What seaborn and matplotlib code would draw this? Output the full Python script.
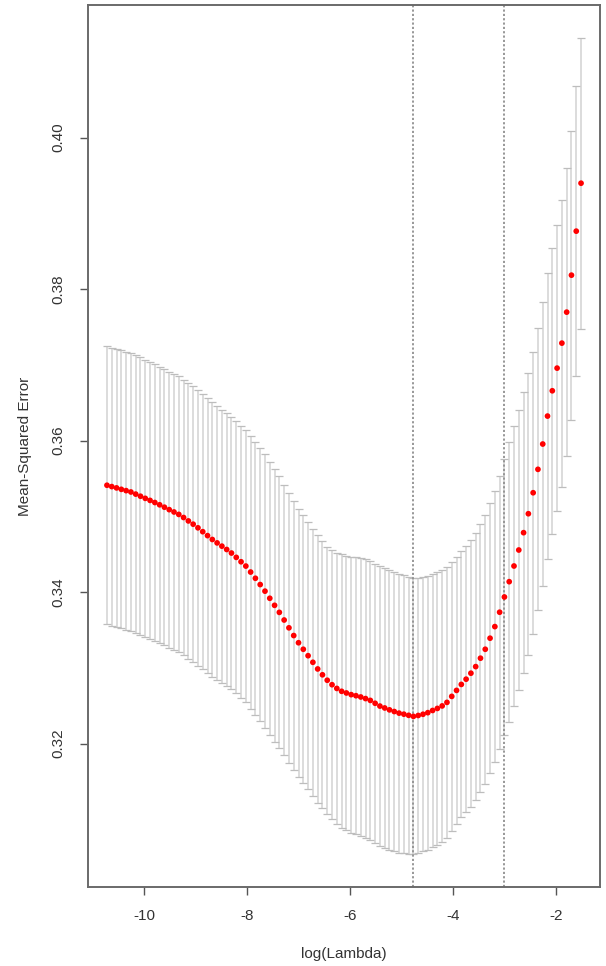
import numpy as np
import pandas as pd
import matplotlib
matplotlib.use("Agg")
import matplotlib.pyplot as plt
import seaborn as sns

# cross-validation curve (glmnet style): log(lambda), mean CV error, its standard error
log_lambda = [
    -10.725, -10.632, -10.539, -10.446, -10.353, -10.260, -10.167, -10.074, -9.981, -9.888,
    -9.795, -9.702, -9.609, -9.516, -9.423, -9.330, -9.237, -9.144, -9.051, -8.958,
    -8.865, -8.772, -8.679, -8.586, -8.493, -8.400, -8.307, -8.214, -8.121, -8.028,
    -7.935, -7.842, -7.749, -7.656, -7.563, -7.470, -7.377, -7.284, -7.191, -7.098,
    -7.005, -6.912, -6.819, -6.726, -6.633, -6.540, -6.447, -6.354, -6.261, -6.168,
    -6.075, -5.982, -5.889, -5.796, -5.703, -5.610, -5.517, -5.424, -5.331, -5.238,
    -5.145, -5.052, -4.959, -4.866, -4.773, -4.680, -4.587, -4.494, -4.401, -4.308,
    -4.215, -4.122, -4.029, -3.936, -3.843, -3.750, -3.657, -3.564, -3.471, -3.378,
    -3.285, -3.192, -3.099, -3.006, -2.913, -2.820, -2.727, -2.634, -2.541, -2.448,
    -2.355, -2.262, -2.169, -2.076, -1.983, -1.890, -1.797, -1.704, -1.611, -1.518,
]

cv_mean = [
    0.35410, 0.35392, 0.35375, 0.35356, 0.35339, 0.35321, 0.35293, 0.35265, 0.35237, 0.35210,
    0.35182, 0.35152, 0.35120, 0.35088, 0.35057, 0.35025, 0.34984, 0.34939, 0.34896, 0.34848,
    0.34797, 0.34745, 0.34694, 0.34649, 0.34606, 0.34562, 0.34515, 0.34458, 0.34400, 0.34343,
    0.34264, 0.34182, 0.34099, 0.34012, 0.33918, 0.33825, 0.33732, 0.33631, 0.33528, 0.33426,
    0.33331, 0.33245, 0.33160, 0.33073, 0.32985, 0.32908, 0.32836, 0.32777, 0.32728, 0.32690,
    0.32668, 0.32646, 0.32632, 0.32615, 0.32594, 0.32570, 0.32532, 0.32495, 0.32470, 0.32445,
    0.32423, 0.32402, 0.32388, 0.32373, 0.32359, 0.32371, 0.32387, 0.32408, 0.32437, 0.32464,
    0.32497, 0.32544, 0.32623, 0.32702, 0.32781, 0.32850, 0.32929, 0.33016, 0.33127, 0.33245,
    0.33391, 0.33544, 0.33734, 0.33935, 0.34137, 0.34344, 0.34555, 0.34784, 0.35034, 0.35311,
    0.35620, 0.35954, 0.36323, 0.36657, 0.36956, 0.37286, 0.37695, 0.38183, 0.38764, 0.39397,
]

cv_sd = [
    0.01834, 0.01834, 0.01834, 0.01834, 0.01834, 0.01834, 0.01834, 0.01832, 0.01830, 0.01828,
    0.01826, 0.01823, 0.01821, 0.01821, 0.01821, 0.01821, 0.01821, 0.01821, 0.01821, 0.01821,
    0.01817, 0.01813, 0.01809, 0.01806, 0.01802, 0.01798, 0.01794, 0.01796, 0.01798, 0.01799,
    0.01802, 0.01803, 0.01806, 0.01807, 0.01803, 0.01798, 0.01794, 0.01788, 0.01781, 0.01774,
    0.01768, 0.01766, 0.01765, 0.01765, 0.01764, 0.01763, 0.01761, 0.01777, 0.01792, 0.01807,
    0.01814, 0.01821, 0.01827, 0.01834, 0.01838, 0.01840, 0.01844, 0.01847, 0.01847, 0.01847,
    0.01847, 0.01840, 0.01834, 0.01827, 0.01821, 0.01817, 0.01811, 0.01807, 0.01803, 0.01797,
    0.01792, 0.01785, 0.01778, 0.01766, 0.01755, 0.01759, 0.01761, 0.01765, 0.01768, 0.01776,
    0.01785, 0.01793, 0.01801, 0.01825, 0.01847, 0.01847, 0.01847, 0.01854, 0.01860, 0.01860,
    0.01860, 0.01873, 0.01887, 0.01887, 0.01887, 0.01893, 0.01900, 0.01906, 0.01913, 0.01921,
]

lambda_min = -4.773   # log(lambda.min)
lambda_1se = -3.006   # log(lambda.1se)

x_ticks = [-10, -8, -6, -4, -2]
y_ticks = [0.32, 0.34, 0.36, 0.38, 0.40]


def main():
    sns.set_style("ticks")
    plt.rcParams['font.family'] = ['Liberation Sans', 'DejaVu Sans']

    df = pd.DataFrame({"log_lambda": log_lambda, "mse": cv_mean, "sd": cv_sd})
    df["lo"] = df["mse"] - df["sd"]
    df["up"] = df["mse"] + df["sd"]

    fig = plt.figure(figsize=(6.06, 9.66), dpi=100)
    ax = fig.add_axes([88 / 606, 79 / 966, 512 / 606, 882 / 966])

    # error bars: light grey stems, slightly darker caps
    ax.vlines(df["log_lambda"], df["lo"], df["up"], color="#d2d2d2", linewidth=1.1, zorder=1)
    ax.errorbar(df["log_lambda"], df["mse"], yerr=df["sd"], fmt="none",
                ecolor="#bdbdbd", elinewidth=0, capsize=3.2, capthick=0.9, zorder=1)

    # red points
    sns.scatterplot(data=df, x="log_lambda", y="mse", color="#ff0000", s=17,
                    edgecolor="none", linewidth=0, ax=ax, zorder=3, legend=False)

    # vertical dotted lines for lambda.min and lambda.1se
    for v in (lambda_min, lambda_1se):
        ax.axvline(v, color="#909090", linestyle=(0, (1.2, 1.2)), linewidth=1.3, zorder=2)

    # R-like 4% axis padding
    xr = df["log_lambda"].max() - df["log_lambda"].min()
    ax.set_xlim(df["log_lambda"].min() - 0.04 * xr, df["log_lambda"].max() + 0.04 * xr)
    yr = df["up"].max() - df["lo"].min()
    ax.set_ylim(df["lo"].min() - 0.04 * yr, df["up"].max() + 0.04 * yr)

    ax.set_xticks(x_ticks)
    ax.set_xticklabels([str(t) for t in x_ticks])
    ax.set_yticks(y_ticks)
    ax.set_yticklabels([f"{t:.2f}" for t in y_ticks], rotation=90, va="center")

    ax.tick_params(axis="both", direction="out", length=6, width=1.0, colors="#555555",
                   labelcolor="#333333", labelsize=11, pad=10)

    for s in ax.spines.values():
        s.set_visible(True)
        s.set_color("#6a6a6a")
        s.set_linewidth(1.4)

    ax.set_xlabel("log(Lambda)", fontsize=11, color="#333333", labelpad=17)
    ax.set_ylabel("Mean-Squared Error", fontsize=11, color="#333333", labelpad=14)

    fig.savefig("out.png", dpi=100)
    plt.close(fig)


if __name__ == "__main__":
    main()
